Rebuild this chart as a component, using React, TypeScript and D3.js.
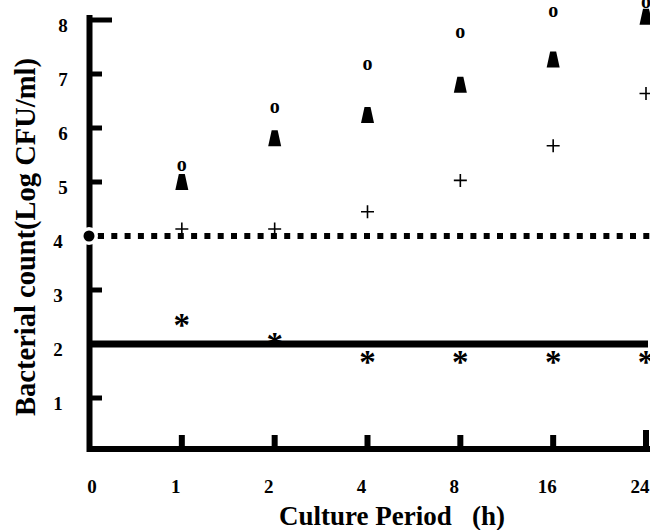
import React, { useEffect, useRef } from 'react';
import * as d3 from 'd3';

const periods = ['0', '1', '2', '4', '8', '16', '24'];
const yTicks = [1, 2, 3, 4, 5, 6, 7, 8];
const detectionLimit = 2;
const inoculum = 4;

// each series starts at 1 h
const circleSeries = [5.3, 6.37, 7.16, 7.76, 8.14, 8.31];
const triangleSeries = [5.0, 5.81, 6.24, 6.8, 7.27, 8.06];
const plusSeries = [4.13, 4.13, 4.45, 5.03, 5.67, 6.64];
const starSeries = [2.44, 2.09, 1.76, 1.76, 1.76, 1.76];

const width = 650;
const height = 530;
const serif = '"Liberation Serif", "Times New Roman", serif';

const App = () => {
  const svgRef = useRef<SVGSVGElement>(null);

  useEffect(() => {
    const svg = d3.select(svgRef.current);
    svg.selectAll('*').remove();

    const x = d3.scalePoint<string>().domain(periods).range([89, 646]);
    const y = d3.scaleLinear().domain([0, 8]).range([452, 20]);
    const later = periods.slice(1);
    const axisX = 89.5;
    const axisY = 449;

    // reference lines
    svg
      .append('line')
      .attr('x1', axisX)
      .attr('x2', 648)
      .attr('y1', y(detectionLimit))
      .attr('y2', y(detectionLimit))
      .attr('stroke', '#000')
      .attr('stroke-width', 7);

    svg
      .append('line')
      .attr('x1', 98)
      .attr('x2', width)
      .attr('y1', y(inoculum))
      .attr('y2', y(inoculum))
      .attr('stroke', '#000')
      .attr('stroke-width', 6)
      .attr('stroke-dasharray', '6,7.3');

    // y axis
    svg
      .append('line')
      .attr('x1', axisX)
      .attr('x2', axisX)
      .attr('y1', 15)
      .attr('y2', 452)
      .attr('stroke', '#000')
      .attr('stroke-width', 6);

    svg
      .selectAll('.ytick')
      .data(yTicks)
      .enter()
      .append('line')
      .attr('class', 'ytick')
      .attr('x1', axisX)
      .attr('x2', d => (d === 8 ? 112 : 102))
      .attr('y1', d => y(d))
      .attr('y2', d => y(d))
      .attr('stroke', '#000')
      .attr('stroke-width', 5);

    svg
      .selectAll('.ylabel')
      .data(yTicks)
      .enter()
      .append('text')
      .attr('class', 'ylabel')
      .attr('x', d => (d >= 5 ? 63 : 58))
      .attr('y', d => y(d) + 12)
      .attr('text-anchor', 'middle')
      .attr('font-family', serif)
      .attr('font-weight', 'bold')
      .attr('font-size', 19)
      .text(d => d);

    // x axis
    svg
      .append('line')
      .attr('x1', 87)
      .attr('x2', width)
      .attr('y1', axisY)
      .attr('y2', axisY)
      .attr('stroke', '#000')
      .attr('stroke-width', 6);

    svg
      .selectAll('.xtick')
      .data(later)
      .enter()
      .append('line')
      .attr('class', 'xtick')
      .attr('x1', d => x(d)!)
      .attr('x2', d => x(d)!)
      .attr('y1', axisY)
      .attr('y2', d => (d === '24' ? 430 : 435))
      .attr('stroke', '#000')
      .attr('stroke-width', 6);

    svg
      .selectAll('.xlabel')
      .data(periods)
      .enter()
      .append('text')
      .attr('class', 'xlabel')
      .attr('x', (d, i) => x(d)! + (i === 0 ? 3 : -6))
      .attr('y', 493)
      .attr('text-anchor', 'middle')
      .attr('font-family', serif)
      .attr('font-weight', 'bold')
      .attr('font-size', 19)
      .text(d => d);

    // axis titles
    svg
      .append('text')
      .attr('x', 392)
      .attr('y', 525)
      .attr('text-anchor', 'middle')
      .attr('font-family', serif)
      .attr('font-weight', 'bold')
      .attr('font-size', 27)
      .style('white-space', 'pre')
      .text('Culture Period   (h)');

    svg
      .append('text')
      .attr('transform', 'translate(35,237) rotate(-90)')
      .attr('text-anchor', 'middle')
      .attr('font-family', serif)
      .attr('font-weight', 'bold')
      .attr('font-size', 28.5)
      .text('Bacterial count(Log CFU/ml)');

    // inoculum marker at 0 h
    svg
      .append('circle')
      .attr('cx', x('0')!)
      .attr('cy', y(inoculum))
      .attr('r', 9)
      .attr('fill', '#fff');
    svg
      .append('circle')
      .attr('cx', x('0')!)
      .attr('cy', y(inoculum))
      .attr('r', 5.5)
      .attr('fill', '#000');

    // triangles
    svg
      .selectAll('.tri')
      .data(triangleSeries)
      .enter()
      .append('path')
      .attr('class', 'tri')
      .attr('transform', (d, i) => `translate(${x(later[i])},${y(d)})`)
      .attr('d', 'M-3,-8 L3,-8 L6.5,8 L-6.5,8 Z')
      .attr('fill', '#000');

    // circles ("o")
    svg
      .selectAll('.circ')
      .data(circleSeries)
      .enter()
      .append('text')
      .attr('class', 'circ')
      .attr('x', (d, i) => x(later[i])!)
      .attr('y', (d, i) => y(d) + 5)
      .attr('text-anchor', 'middle')
      .attr('font-family', serif)
      .attr('font-weight', 'bold')
      .attr('font-size', 20)
      .text('o');

    // plus
    svg
      .selectAll('.plus')
      .data(plusSeries)
      .enter()
      .append('path')
      .attr('class', 'plus')
      .attr('transform', (d, i) => `translate(${x(later[i])},${y(d)})`)
      .attr('d', 'M-6.5,0 H6.5 M0,-6.5 V6.5')
      .attr('stroke', '#000')
      .attr('stroke-width', 1.6)
      .attr('fill', 'none');

    // asterisks
    svg
      .selectAll('.star')
      .data(starSeries)
      .enter()
      .append('text')
      .attr('class', 'star')
      .attr('x', (d, i) => x(later[i])!)
      .attr('y', (d, i) => y(d) + 16)
      .attr('text-anchor', 'middle')
      .attr('font-family', serif)
      .attr('font-weight', 'bold')
      .attr('font-size', 33)
      .text('*');
  }, []);

  return (
    <svg
      ref={svgRef}
      width={width}
      height={height}
      style={{ position: 'absolute', left: 0, top: 0, background: '#fff' }}
    ></svg>
  );
};

export default App;
